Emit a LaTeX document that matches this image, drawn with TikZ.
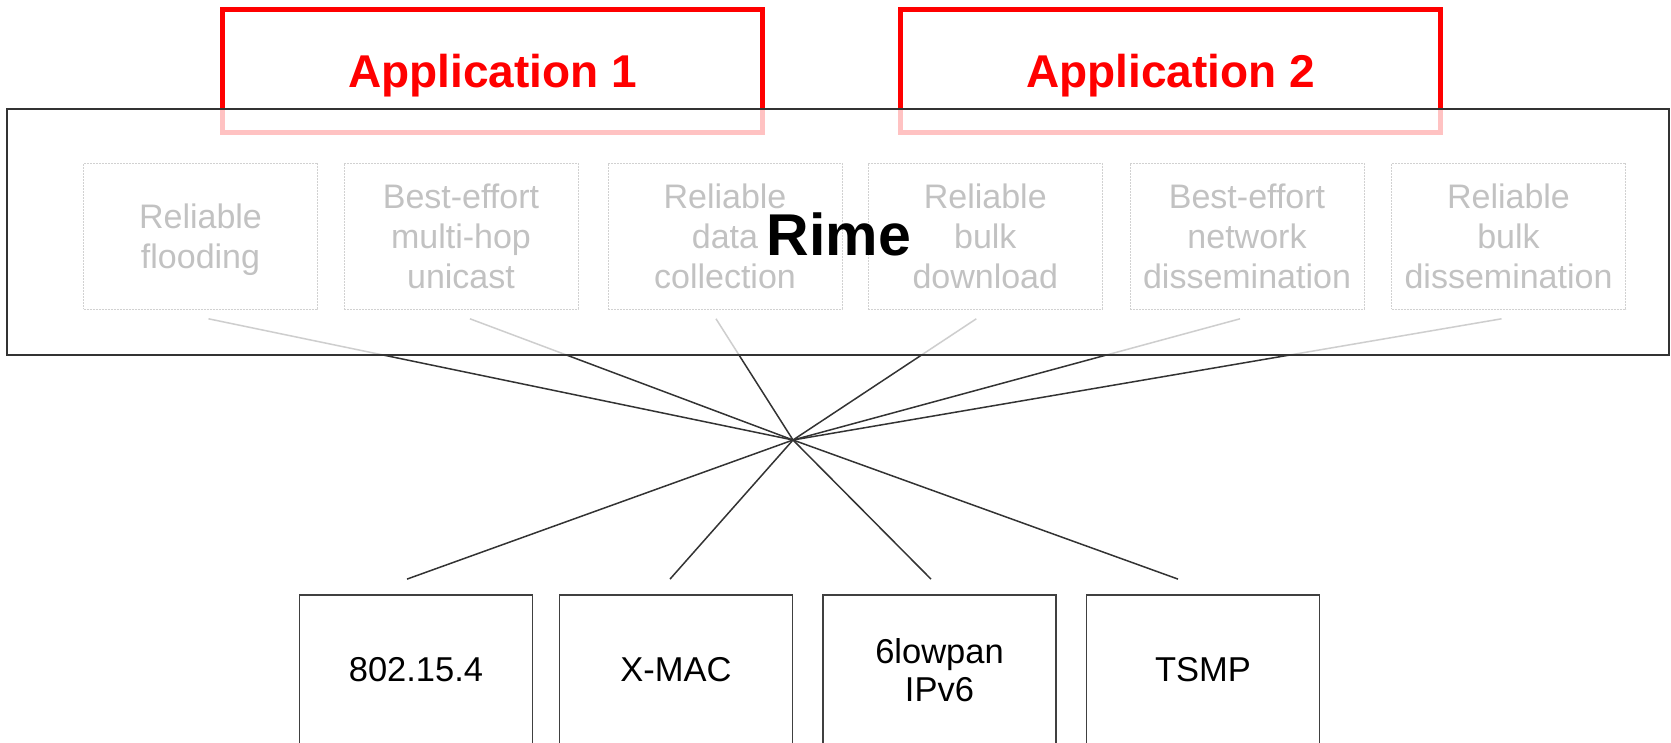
\documentclass[tikz,border=0pt]{standalone}
\usepackage{fontspec}
\setmainfont{Liberation Sans}
\usetikzlibrary{calc}
\begin{document}
\begin{tikzpicture}[x=1pt,y=-1pt,
  appbox/.style={draw=red, line width=5pt, inner sep=0pt,
    minimum width=540pt, minimum height=122.5pt, text=red,
    font=\fontsize{46}{50}\selectfont\bfseries, text height=33pt, text depth=0pt},
  protobox/.style={draw=black!75, line width=1pt, dash pattern=on 2pt off 1pt,
    minimum width=234pt, minimum height=146pt, inner sep=0pt, align=center,
    text=black, font=\fontsize{34}{40}\selectfont},
  macbox/.style={draw=black!75, line width=1.8pt, minimum width=233pt,
    minimum height=150pt, inner sep=0pt, align=center,
    font=\fontsize{34.5}{37.7}\selectfont},
  spoke/.style={draw=black!80, line width=1.5pt},
  layer/.style={draw=black!80, line width=2pt, fill=white, fill opacity=0.76,
    text opacity=1, minimum width=1662.5pt, minimum height=246pt, inner sep=0pt},
  layerlabel/.style={inner sep=0pt, font=\fontsize{59}{64}\selectfont\bfseries,
    text height=42.5pt, text depth=0pt}
]
\useasboundingbox (0,0) rectangle (1671,742);

% applications sitting on top of the stack
\node[appbox] (app1) at (492.5,70.75) {Application 1};
\node[appbox] (app2) at (1170.75,70.75) {Application 2};

% Rime communication primitives
\node[protobox, text depth=0pt] (p1) at (200.5,236.3) {Reliable\\flooding};
\node[protobox] (p2) at (461,236.3) {Best-effort\\multi-hop\\unicast};
\node[protobox] (p3) at (725,236.3) {Reliable\\data\\collection};
\node[protobox] (p4) at (985.3,236.3) {Reliable\\bulk\\download};
\node[protobox] (p5) at (1247,236.3) {Best-effort\\network\\dissemination};
\node[protobox] (p6) at (1508.5,236.3) {Reliable\\bulk\\dissemination};

% lower layers
\node[macbox] (m1) at (416,670) {802.15.4};
\node[macbox] (m2) at (676,670) {X-MAC};
\node[macbox] (m3) at (939.5,670) {6lowpan\\IPv6};
\node[macbox] (m4) at (1203,670) {TSMP};

% every primitive can run over every lower layer
\coordinate (hub) at (793,440);
\draw[spoke] ($(p1.south)+(8,9)$) -- (hub);
\draw[spoke] ($(p2.south)+(9,9)$) -- (hub);
\draw[spoke] ($(p3.south)+(-9,9)$) -- (hub);
\draw[spoke] ($(p4.south)+(-9,9)$) -- (hub);
\draw[spoke] ($(p5.south)+(-7,9)$) -- (hub);
\draw[spoke] ($(p6.south)+(-7,9)$) -- (hub);
\draw[spoke] (hub) -- ($(m1.north)+(-9,-15)$);
\draw[spoke] (hub) -- ($(m2.north)+(-6,-15)$);
\draw[spoke] (hub) -- ($(m3.north)+(-8.5,-15)$);
\draw[spoke] (hub) -- ($(m4.north)+(-25,-15)$);

% the Rime layer, washing out what lies inside it
\node[layer] (rime) at (837.75,231.5) {};
\node[layerlabel] (rimelabel) at (839,234.7) {Rime};
\end{tikzpicture}
\end{document}
